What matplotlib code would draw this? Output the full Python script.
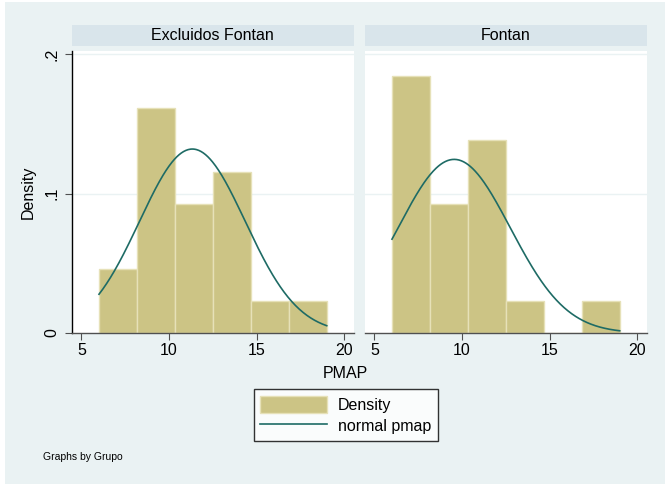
import numpy as np
import matplotlib
matplotlib.use("Agg")
import matplotlib.pyplot as plt
from matplotlib.patches import Rectangle, Patch
from matplotlib.lines import Line2D

plt.rcParams['font.family'] = ['Liberation Sans', 'DejaVu Sans']

# histogram bins for pmap (shared by both groups) and counts per group
bin_edges = [6, 8.1667, 10.3333, 12.5, 14.6667, 16.8333, 19]
groups = ['Excluidos Fontan', 'Fontan']
counts_excl = [2, 7, 4, 5, 1, 1]
counts_fontan = [8, 4, 6, 1, 0, 1]
# normal overlay parameters (mean, sd) and data range
means = [11.33, 9.55]
sds = [3.02, 3.20]
pmap_min, pmap_max = 6, 19

W, H = 665, 484
bg = '#EAF2F3'
strip_col = '#D9E5EB'
bar_col = '#CCC485'
bar_edge = '#E6E1B8'
line_col = '#1E6B65'
fs = 11.5

fig = plt.figure(figsize=(W / 100, H / 100), dpi=100)
fig.patch.set_facecolor('white')
fig.add_artist(Rectangle((5 / W, 0), 1, 1 - 2 / H, transform=fig.transFigure,
                         facecolor=bg, edgecolor='none', zorder=-10))


def box(x0, y0, x1, y1):
    return [x0 / W, 1 - y1 / H, (x1 - x0) / W, (y1 - y0) / H]


panels = [(71.5, 353.5), (364.5, 646.5)]
all_counts = [counts_excl, counts_fontan]
centers = [(a + b) / 2 for a, b in zip(bin_edges[:-1], bin_edges[1:])]

axes = []
for i, (x0, x1) in enumerate(panels):
    ax = fig.add_axes(box(x0, 51, x1, 333))
    ax.set_facecolor('white')
    ax.hist(centers, bins=bin_edges, weights=all_counts[i], density=True,
            color=bar_col, edgecolor=bar_edge, linewidth=1.0, zorder=2)
    xs = np.linspace(pmap_min, pmap_max, 300)
    ys = np.exp(-0.5 * ((xs - means[i]) / sds[i]) ** 2) / (sds[i] * np.sqrt(2 * np.pi))
    ax.plot(xs, ys, color=line_col, linewidth=1.2, zorder=3)

    ax.set_xlim(4.43, 20.53)
    ax.set_ylim(0, 0.2025)
    ax.set_xticks([5, 10, 15, 20])
    ax.set_yticks([0, 0.1, 0.2])
    ax.set_yticklabels(['0', '.1', '.2'], rotation=90, va='center')
    for y in [0.1, 0.2]:
        ax.axhline(y, color=bg, linewidth=1.0, zorder=1)
    for s in ['top', 'right']:
        ax.spines[s].set_visible(False)
    ax.spines['bottom'].set_color('#505050')
    ax.spines['bottom'].set_linewidth(1.0)
    ax.tick_params(axis='x', length=5, width=0.8, color='#505050',
                   labelsize=fs, pad=2)
    ax.tick_params(axis='y', length=5, width=0.8, color='#505050',
                   labelsize=fs, pad=4)
    if i == 0:
        ax.spines['left'].set_color('black')
        ax.spines['left'].set_linewidth(1.0)
        ax.set_ylabel('Density', fontsize=fs, labelpad=6)
    else:
        ax.spines['left'].set_visible(False)
        ax.tick_params(axis='y', left=False, labelleft=False)

    # group title strip
    sax = fig.add_axes(box(x0, 24.5, x1, 46))
    sax.set_facecolor(strip_col)
    sax.set_xticks([])
    sax.set_yticks([])
    for s in sax.spines.values():
        s.set_visible(False)
    sax.text(0.5, 0.5, groups[i], ha='center', va='center', fontsize=fs,
             transform=sax.transAxes)
    axes.append(ax)

fig.text(345.5 / W, 1 - 373 / H, 'PMAP', ha='center', va='center', fontsize=fs)

handles = [Patch(facecolor=bar_col, edgecolor=bar_edge, linewidth=1.0),
           Line2D([], [], color=line_col, linewidth=1.2)]
leg = fig.legend(handles, ['Density', 'normal pmap'], loc='center',
                 bbox_to_anchor=(345.7 / W, 1 - 415 / H), fontsize=fs,
                 frameon=True, fancybox=False, edgecolor='black',
                 handlelength=4.2, handleheight=1.25, handletextpad=0.7,
                 borderpad=0.4, labelspacing=0.3, borderaxespad=0)
leg.get_frame().set_linewidth(1.0)
leg.get_frame().set_facecolor('white')

fig.text(43 / W, 1 - 457 / H, 'Graphs by Grupo', ha='left', va='center',
         fontsize=7.5)

fig.savefig('out.png', dpi=100, facecolor=fig.get_facecolor())
